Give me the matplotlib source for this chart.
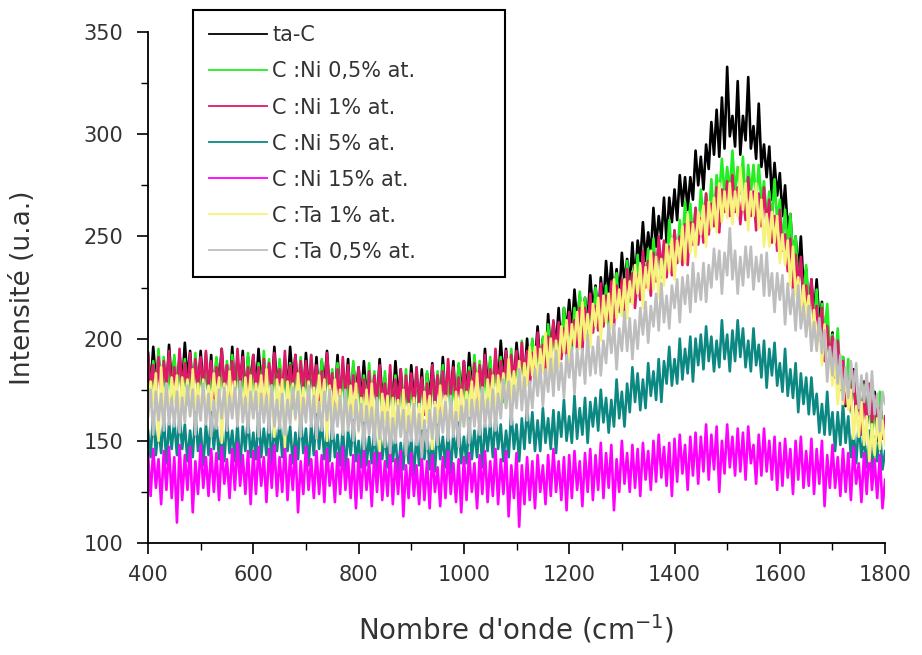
import numpy as np
import matplotlib
matplotlib.use("Agg")
import matplotlib.pyplot as plt
from matplotlib.ticker import MultipleLocator

plt.rcParams['font.family'] = ['DejaVu Sans']

# wavenumber grid, one reading every 5 cm-1
wavenumber = np.arange(400, 1801, 5)

labels = ['ta-C', 'C :Ni 0,5% at.', 'C :Ni 1% at.', 'C :Ni 5% at.',
          'C :Ni 15% at.', 'C :Ta 1% at.', 'C :Ta 0,5% at.']
colors = ['#000000', '#22ee22', '#e0186a', '#0b8882', '#ff00ff', '#f7f27c', '#bebebe']

ta_c = [193, 176, 196, 179, 191, 173, 188, 175, 197, 178,
        190, 172, 192, 177, 198, 180, 194, 175, 189, 174,
        194, 177, 188, 173, 192, 170, 190, 178, 195, 175,
        187, 174, 196, 175, 189, 176, 194, 171, 191, 178,
        192, 175, 195, 178, 190, 172, 187, 174, 196, 177,
        188, 170, 190, 175, 196, 178, 192, 173, 187, 172,
        193, 176, 187, 172, 191, 169, 189, 177, 194, 174,
        183, 170, 192, 171, 185, 172, 190, 167, 187, 174,
        186, 169, 189, 172, 184, 166, 181, 168, 190, 171,
        181, 163, 183, 168, 189, 171, 185, 166, 180, 165,
        187, 170, 181, 166, 185, 163, 183, 171, 188, 168,
        182, 169, 191, 170, 184, 171, 189, 166, 187, 173,
        189, 172, 193, 176, 188, 171, 186, 173, 195, 177,
        189, 171, 192, 177, 199, 181, 195, 177, 191, 177,
        198, 182, 194, 180, 200, 179, 199, 188, 206, 187,
        200, 188, 212, 192, 208, 196, 215, 194, 215, 204,
        219, 203, 224, 208, 221, 204, 220, 208, 231, 213,
        226, 209, 230, 216, 238, 221, 237, 219, 234, 220,
        242, 227, 239, 226, 247, 227, 248, 238, 257, 238,
        252, 241, 264, 245, 260, 249, 269, 247, 269, 257,
        273, 258, 280, 265, 279, 263, 279, 268, 292, 275,
        289, 273, 295, 283, 306, 290, 312, 289, 318, 293,
        333, 299, 309, 294, 326, 290, 309, 297, 328, 293,
        304, 288, 315, 284, 295, 279, 294, 268, 286, 270,
        281, 260, 275, 254, 261, 239, 250, 232, 250, 226,
        234, 213, 229, 211, 229, 208, 218, 196, 207, 188,
        203, 184, 192, 175, 191, 167, 185, 170, 185, 162,
        172, 158, 179, 158, 171, 157, 174, 150, 170, 156,
        160]

ni_05 = [187, 169, 189, 174, 195, 177, 191, 172, 186, 171,
         192, 175, 186, 171, 190, 168, 188, 176, 193, 173,
         184, 171, 193, 172, 186, 173, 191, 168, 188, 175,
         189, 172, 192, 175, 187, 169, 184, 171, 193, 174,
         186, 168, 188, 173, 194, 176, 190, 171, 185, 170,
         190, 173, 184, 169, 188, 166, 186, 174, 191, 171,
         183, 170, 192, 171, 185, 172, 190, 167, 187, 174,
         185, 168, 188, 171, 183, 165, 180, 167, 189, 170,
         180, 162, 182, 167, 188, 170, 184, 165, 179, 164,
         184, 167, 178, 163, 182, 160, 180, 168, 185, 165,
         177, 164, 186, 165, 179, 166, 184, 161, 181, 168,
         184, 167, 187, 170, 182, 164, 179, 166, 188, 169,
         183, 165, 186, 171, 192, 175, 189, 170, 184, 170,
         191, 174, 186, 171, 191, 169, 189, 178, 195, 176,
         188, 176, 199, 178, 193, 181, 200, 178, 198, 186,
         201, 185, 207, 191, 204, 188, 204, 192, 215, 198,
         211, 194, 215, 201, 223, 206, 220, 202, 217, 203,
         225, 209, 221, 206, 226, 205, 226, 215, 232, 213,
         226, 214, 238, 218, 233, 222, 241, 219, 240, 229,
         244, 228, 249, 234, 247, 230, 246, 234, 258, 240,
         253, 237, 258, 245, 267, 251, 266, 249, 264, 251,
         273, 258, 271, 257, 278, 258, 280, 270, 288, 270,
         284, 271, 292, 271, 284, 271, 289, 265, 285, 271,
         285, 267, 285, 267, 277, 258, 272, 257, 278, 257,
         268, 246, 263, 244, 261, 240, 250, 227, 237, 219,
         236, 216, 225, 207, 224, 199, 217, 202, 217, 194,
         202, 186, 205, 180, 191, 175, 190, 164, 180, 164,
         175, 157, 177, 159, 171, 152, 166, 153, 174, 155,
         160]

ni_1 = [193, 176, 187, 172, 191, 169, 189, 177, 194, 174,
        186, 173, 195, 174, 188, 175, 193, 170, 190, 177,
        191, 174, 194, 177, 189, 171, 186, 173, 195, 176,
        187, 169, 189, 174, 195, 177, 191, 172, 186, 171,
        192, 175, 186, 171, 190, 168, 188, 176, 193, 173,
        185, 172, 194, 173, 187, 174, 192, 169, 189, 176,
        189, 172, 192, 175, 187, 169, 184, 171, 193, 174,
        183, 165, 185, 170, 191, 173, 187, 168, 182, 167,
        186, 169, 180, 165, 184, 162, 182, 170, 187, 167,
        178, 165, 187, 166, 180, 167, 185, 162, 182, 169,
        183, 166, 186, 169, 181, 163, 178, 165, 187, 168,
        182, 164, 184, 169, 190, 172, 186, 167, 181, 166,
        189, 172, 184, 169, 188, 167, 187, 175, 192, 173,
        185, 172, 195, 174, 189, 176, 194, 172, 192, 180,
        194, 178, 198, 182, 194, 177, 193, 180, 203, 184,
        197, 180, 201, 187, 209, 192, 208, 190, 205, 191,
        213, 197, 209, 195, 215, 194, 215, 204, 222, 203,
        216, 204, 227, 206, 221, 209, 228, 206, 226, 214,
        229, 213, 234, 219, 232, 215, 231, 219, 243, 225,
        238, 221, 242, 228, 250, 233, 248, 230, 245, 231,
        253, 237, 250, 236, 256, 236, 257, 246, 264, 246,
        259, 247, 271, 251, 266, 255, 274, 252, 273, 262,
        277, 260, 280, 262, 274, 256, 271, 258, 279, 260,
        272, 253, 271, 255, 274, 255, 268, 247, 260, 243,
        263, 243, 251, 233, 249, 224, 241, 226, 240, 217,
        226, 210, 229, 205, 216, 200, 215, 189, 206, 190,
        201, 181, 199, 179, 189, 168, 180, 165, 184, 163,
        172, 153, 173, 157, 178, 159, 172, 153, 166, 151,
        162]

ni_5 = [155, 142, 164, 143, 157, 144, 162, 139, 159, 146,
        160, 143, 163, 146, 158, 140, 155, 142, 164, 145,
        156, 138, 158, 143, 164, 146, 160, 141, 155, 140,
        161, 144, 155, 140, 159, 137, 157, 145, 162, 142,
        154, 141, 163, 142, 156, 143, 161, 138, 158, 145,
        159, 142, 162, 145, 157, 139, 154, 141, 163, 144,
        156, 138, 158, 143, 164, 146, 160, 141, 155, 140,
        159, 142, 153, 138, 157, 135, 155, 143, 160, 140,
        150, 137, 159, 138, 152, 139, 157, 134, 154, 141,
        154, 137, 157, 140, 152, 134, 149, 136, 158, 139,
        151, 133, 153, 138, 159, 141, 155, 136, 150, 135,
        158, 141, 152, 137, 156, 134, 154, 142, 159, 139,
        152, 139, 161, 141, 155, 142, 160, 137, 158, 145,
        159, 142, 162, 146, 158, 140, 155, 142, 165, 146,
        158, 140, 161, 146, 167, 149, 164, 145, 160, 145,
        166, 149, 161, 146, 165, 144, 164, 152, 170, 150,
        162, 149, 172, 151, 166, 153, 171, 149, 169, 157,
        171, 155, 175, 159, 171, 154, 170, 157, 180, 161,
        174, 157, 178, 164, 186, 169, 183, 165, 180, 166,
        188, 172, 184, 170, 190, 169, 189, 178, 196, 177,
        190, 178, 200, 180, 195, 183, 201, 179, 200, 187,
        202, 185, 206, 189, 201, 184, 199, 186, 209, 190,
        202, 184, 204, 189, 209, 191, 205, 186, 199, 184,
        205, 187, 197, 181, 199, 176, 195, 182, 198, 177,
        188, 174, 195, 172, 185, 171, 188, 164, 183, 168,
        181, 163, 181, 163, 173, 154, 168, 153, 174, 153,
        164, 145, 164, 148, 168, 149, 162, 142, 155, 139,
        159, 142, 152, 137, 155, 133, 152, 140, 156, 136,
        145]

ni_15 = [144, 123, 146, 127, 141, 119, 145, 126, 147, 122,
         142, 110, 148, 121, 143, 126, 147, 115, 140, 124,
         148, 127, 142, 123, 146, 125, 144, 121, 147, 129,
         141, 122, 146, 126, 149, 128, 143, 124, 145, 119,
         145, 124, 147, 128, 142, 120, 146, 127, 148, 123,
         142, 125, 148, 121, 143, 126, 147, 115, 140, 124,
         147, 126, 141, 122, 145, 124, 143, 120, 146, 128,
         139, 120, 144, 124, 147, 126, 141, 122, 143, 117,
         143, 122, 145, 126, 140, 118, 144, 125, 146, 121,
         140, 123, 146, 119, 141, 124, 145, 113, 138, 122,
         144, 123, 138, 119, 142, 121, 140, 117, 143, 125,
         137, 118, 142, 122, 145, 124, 139, 120, 141, 115,
         142, 121, 144, 125, 139, 117, 143, 124, 145, 120,
         140, 123, 146, 119, 141, 124, 145, 113, 138, 122,
         144, 108, 138, 119, 142, 121, 140, 117, 143, 125,
         138, 119, 143, 123, 146, 125, 140, 121, 142, 116,
         143, 122, 145, 126, 140, 118, 144, 125, 146, 121,
         143, 126, 149, 122, 144, 127, 148, 116, 141, 125,
         150, 129, 144, 125, 148, 127, 146, 123, 149, 131,
         145, 126, 150, 130, 153, 132, 147, 128, 149, 123,
         151, 130, 153, 134, 148, 126, 152, 133, 154, 129,
         152, 135, 158, 131, 153, 136, 157, 125, 150, 134,
         158, 137, 152, 133, 156, 135, 154, 131, 157, 139,
         148, 129, 153, 133, 156, 135, 150, 131, 152, 126,
         149, 128, 151, 132, 146, 124, 150, 131, 152, 127,
         145, 128, 151, 124, 146, 129, 150, 118, 143, 127,
         148, 127, 142, 123, 146, 125, 144, 121, 147, 129,
         139, 120, 144, 124, 147, 126, 141, 122, 143, 117,
         131]

ta_1 = [162, 179, 168, 183, 150, 186, 166, 178, 161, 181,
        169, 182, 160, 181, 167, 180, 162, 185, 165, 178,
        163, 180, 160, 177, 165, 183, 168, 181, 149, 178,
        166, 184, 164, 179, 158, 176, 162, 181, 167, 182,
        161, 178, 167, 182, 163, 185, 165, 177, 152, 180,
        167, 180, 147, 179, 165, 178, 160, 183, 163, 176,
        162, 179, 159, 176, 164, 182, 167, 180, 150, 177,
        162, 180, 160, 175, 154, 172, 158, 177, 163, 178,
        154, 171, 160, 175, 156, 178, 158, 170, 145, 173,
        159, 172, 150, 171, 157, 170, 152, 175, 155, 168,
        154, 171, 151, 168, 156, 174, 159, 172, 146, 169,
        159, 177, 157, 172, 151, 169, 155, 174, 160, 175,
        157, 174, 164, 179, 161, 183, 163, 176, 159, 180,
        168, 182, 161, 182, 169, 183, 166, 190, 170, 184,
        171, 189, 170, 188, 177, 196, 182, 196, 175, 195,
        184, 203, 184, 200, 180, 199, 186, 206, 193, 209,
        189, 207, 197, 213, 195, 218, 199, 212, 196, 217,
        206, 220, 199, 221, 208, 222, 205, 229, 210, 224,
        211, 229, 210, 228, 217, 236, 222, 236, 215, 235,
        224, 243, 224, 240, 220, 239, 226, 246, 233, 249,
        229, 248, 238, 255, 237, 261, 242, 256, 240, 262,
        251, 265, 245, 267, 254, 269, 252, 276, 257, 272,
        259, 276, 256, 272, 260, 284, 263, 276, 253, 272,
        260, 276, 254, 268, 245, 261, 245, 262, 247, 260,
        237, 251, 236, 248, 226, 245, 221, 230, 210, 226,
        211, 221, 196, 214, 197, 208, 187, 207, 184, 194,
        177, 191, 168, 183, 168, 183, 165, 175, 151, 167,
        152, 169, 148, 162, 140, 158, 143, 161, 146, 160,
        148]

ta_05 = [162, 175, 153, 174, 160, 173, 155, 178, 158, 171,
         157, 174, 154, 171, 159, 177, 162, 175, 153, 172,
         160, 178, 158, 173, 152, 170, 156, 175, 161, 176,
         155, 172, 161, 176, 157, 179, 159, 171, 154, 174,
         161, 174, 152, 173, 159, 172, 154, 177, 157, 170,
         156, 173, 153, 170, 158, 176, 161, 174, 152, 171,
         159, 177, 157, 172, 151, 169, 155, 174, 160, 175,
         151, 168, 157, 172, 153, 175, 155, 167, 150, 170,
         155, 168, 146, 167, 153, 166, 148, 171, 151, 164,
         147, 164, 144, 161, 149, 167, 152, 165, 143, 162,
         150, 168, 148, 163, 142, 160, 146, 165, 151, 166,
         148, 165, 154, 169, 150, 172, 152, 164, 147, 167,
         157, 170, 149, 170, 157, 170, 153, 176, 157, 170,
         157, 175, 155, 173, 161, 180, 166, 179, 158, 177,
         166, 185, 165, 181, 160, 179, 166, 185, 172, 187,
         167, 185, 174, 190, 172, 194, 175, 188, 171, 192,
         181, 195, 173, 195, 182, 195, 178, 202, 182, 196,
         183, 201, 182, 199, 188, 207, 193, 207, 185, 205,
         194, 213, 194, 210, 190, 209, 195, 215, 202, 218,
         198, 216, 206, 222, 204, 227, 208, 221, 205, 226,
         215, 229, 208, 230, 217, 231, 213, 237, 218, 232,
         219, 237, 218, 236, 225, 244, 229, 243, 222, 242,
         231, 254, 229, 243, 222, 240, 226, 245, 230, 245,
         224, 240, 228, 241, 221, 242, 221, 232, 213, 232,
         219, 231, 207, 227, 212, 224, 204, 226, 205, 216,
         201, 216, 194, 208, 194, 210, 193, 204, 179, 196,
         182, 199, 178, 192, 170, 186, 171, 189, 174, 188,
         166, 182, 169, 183, 163, 184, 163, 173, 155, 174,
         168]

series = [ta_c, ni_05, ni_1, ni_5, ni_15, ta_1, ta_05]

fig = plt.figure(figsize=(9.22, 6.55), dpi=100)
ax = fig.add_axes([0.1605, 0.171, 0.7995, 0.780])

for ys, lab, col in zip(series, labels, colors):
    ax.plot(wavenumber, ys, color=col, lw=1.9, label=lab)

ax.set_xlim(400, 1800)
ax.set_ylim(100, 350)
ax.xaxis.set_major_locator(MultipleLocator(200))
ax.xaxis.set_minor_locator(MultipleLocator(100))
ax.yaxis.set_major_locator(MultipleLocator(50))
ax.yaxis.set_minor_locator(MultipleLocator(25))
ax.spines['top'].set_visible(False)
ax.spines['right'].set_visible(False)
for s in ['left', 'bottom']:
    ax.spines[s].set_linewidth(1.3)
ax.tick_params(which='major', direction='out', length=8, width=1.2,
               labelsize=15, labelcolor='#333333')
ax.tick_params(axis='y', which='major', pad=10)
ax.tick_params(axis='x', which='major', pad=8)
ax.tick_params(which='minor', direction='out', length=5, width=1.0)

ax.set_xlabel("Nombre d'onde (cm$^{-1}$)", fontsize=20, color='#333333')
ax.set_ylabel('Intensité (u.a.)', fontsize=19, color='#333333')
ax.xaxis.set_label_coords(0.5, -0.137)
ax.yaxis.set_label_coords(-0.152, 0.5)

leg = ax.legend(loc='upper left', bbox_to_anchor=(0.2093, 0.7, 0.3384, 0.285),
                bbox_transform=fig.transFigure, mode='expand', borderaxespad=0,
                fancybox=False, edgecolor='black', framealpha=1,
                fontsize=15, handlelength=2.8, handletextpad=0.25,
                labelspacing=0.77, borderpad=0.75)
leg.get_frame().set_linewidth(1.5)
for line in leg.get_lines():
    line.set_linewidth(1.3)
for t in leg.get_texts():
    t.set_color('#333333')

fig.savefig('out.png', dpi=100)
